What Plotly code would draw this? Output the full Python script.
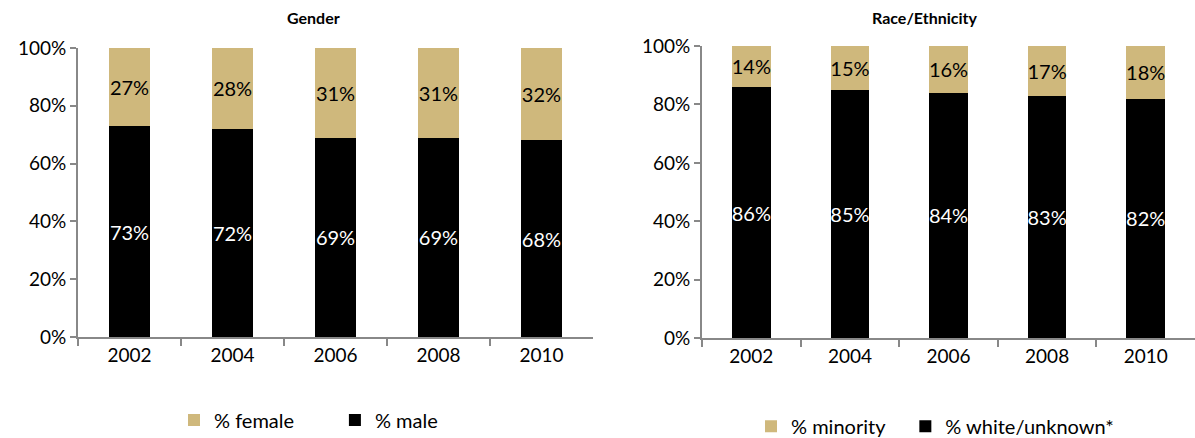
import plotly.graph_objects as go

FONT = "Lato"
TAN = "#CFB87C"
BLACK = "#000000"
AXIS_GRAY = "#888888"
NBSP = "\u00a0"

years = ["2002", "2004", "2006", "2008", "2010"]

pct_male = [73, 72, 69, 69, 68]
pct_female = [27, 28, 31, 31, 32]

pct_white_unknown = [86, 85, 84, 83, 82]
pct_minority = [14, 15, 16, 17, 18]

y_ticks = [0, 20, 40, 60, 80, 100]
y_tick_text = ["0%", "20%", "40%", "60%", "80%", "100%"]


def add_pair(fig, bottom, top, bottom_name, top_name, xaxis, yaxis, legend):
    # bottom segment (black) then top segment (tan), stacked
    fig.add_trace(go.Bar(
        x=years, y=bottom, name=bottom_name,
        xaxis=xaxis, yaxis=yaxis, legend=legend, legendrank=2,
        marker=dict(color=BLACK, line=dict(width=0)),
        width=0.39,
        text=[f"{v}%" for v in bottom], textangle=0,
        textposition="inside", insidetextanchor="middle", constraintext="none",
        insidetextfont=dict(family=FONT, size=20, color="white"),
    ))
    fig.add_trace(go.Bar(
        x=years, y=top, name=top_name,
        xaxis=xaxis, yaxis=yaxis, legend=legend, legendrank=1,
        marker=dict(color=TAN, line=dict(width=0)),
        width=0.39,
        text=[f"{v}%" for v in top], textangle=0,
        textposition="inside", insidetextanchor="middle", constraintext="none",
        insidetextfont=dict(family=FONT, size=20, color="black"),
    ))


fig = go.Figure()
# trailing non-breaking spaces widen the gap between the two legend entries
add_pair(fig, pct_male, pct_female, "% male", "% female" + NBSP * 7, "x", "y", "legend")
add_pair(fig, pct_white_unknown, pct_minority, "% white/unknown*", "% minority" + NBSP * 3,
         "x2", "y2", "legend2")

x_style = dict(
    type="category", showline=True, linecolor=AXIS_GRAY, linewidth=2,
    ticks="outside", tickson="boundaries", ticklen=7, tickcolor=AXIS_GRAY, tickwidth=1.5,
    tickfont=dict(family=FONT, size=19, color="black"), showgrid=False,
)
y_style = dict(
    range=[0, 100], tickmode="array", tickvals=y_ticks, ticktext=y_tick_text,
    showline=True, linecolor=AXIS_GRAY, linewidth=2,
    ticks="outside", ticklen=6, tickcolor=AXIS_GRAY, tickwidth=1.5,
    tickfont=dict(family=FONT, size=19, color="black"), showgrid=False, zeroline=False,
)
legend_style = dict(
    orientation="h", yanchor="middle", xanchor="left",
    font=dict(family=FONT, size=20, color="black"),
    traceorder="normal", itemwidth=30,
)

fig.update_layout(
    width=1195, height=438,
    margin=dict(l=0, r=0, t=0, b=0, autoexpand=False),
    paper_bgcolor="white", plot_bgcolor="white",
    barmode="stack",
    xaxis=dict(domain=[0.0653, 0.4962], anchor="y", **x_style),
    yaxis=dict(domain=[0.2306, 0.8904], anchor="x", **y_style),
    xaxis2=dict(domain=[0.5875, 1.0], anchor="y2", **x_style),
    yaxis2=dict(domain=[0.228, 0.895], anchor="x2", **y_style),
    legend=dict(x=174 / 1195, y=0.041, **legend_style),
    legend2=dict(x=751 / 1195, y=0.027, **legend_style),
    annotations=[
        dict(text="<b>Gender</b>", x=313 / 1195, y=0.959, xref="paper", yref="paper",
             showarrow=False, xanchor="center", yanchor="middle",
             font=dict(family=FONT, size=16, color="black")),
        dict(text="<b>Race/Ethnicity</b>", x=925 / 1195, y=0.959, xref="paper", yref="paper",
             showarrow=False, xanchor="center", yanchor="middle",
             font=dict(family=FONT, size=16, color="black")),
    ],
)

# the page body has a default 8px margin; drop it so the figure fills the window
fig.write_html("out.html", config={"displayModeBar": False},
               post_script="document.body.style.margin = '0';")
